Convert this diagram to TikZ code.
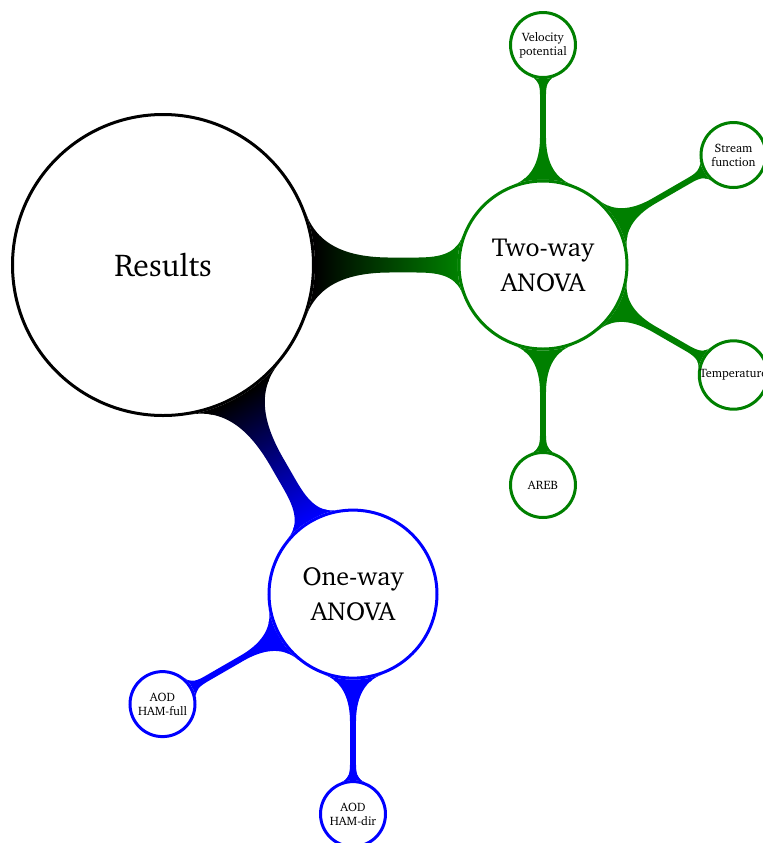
\documentclass[tikz,border=0pt]{standalone}
\usepackage[T1]{fontenc}
\usepackage{charter}
\usetikzlibrary{mindmap,backgrounds}
\colorlet{cgreen}{green!50!black}
\tikzset{
  conc/.style={circle, draw=#1, fill=white, line width=1.5pt, align=center, inner sep=0pt, text=black},
  rootc/.style={conc=black, minimum size=150.5pt, font=\fontsize{15.8}{18}\selectfont},
  midc/.style={conc=#1, minimum size=84pt, font=\fontsize{13}{17.5}\selectfont},
  leafc/.style={conc=#1, minimum size=32.5pt, font=\fontsize{6.1}{7}\selectfont},
  bigbar/.style={line width=7pt},
  smallbar/.style={line width=3.5pt}
}
\begin{document}
\begin{tikzpicture}[x=0.5pt,y=0.5pt]
\useasboundingbox (-163,-578) rectangle (600,265);
\node[rootc] (res) at (0,0) {Results};
\node[midc=cgreen] (two) at (380,0) {Two-way\\ANOVA};
\node[midc=blue] (one) at (190,-329.1) {One-way\\ANOVA};
\node[leafc=cgreen] (vel) at (380,220) {Velocity\\potential};
\node[leafc=cgreen] (str) at (570.5,110) {Stream\\function};
\node[leafc=cgreen] (tmp) at (570.5,-110) {Temperature};
\node[leafc=cgreen] (areb) at (380,-220) {AREB};
\node[leafc=blue] (hfull) at (-0.5,-439.1) {AOD\\HAM-full};
\node[leafc=blue] (hdir) at (190,-549.1) {AOD\\HAM-dir};
\begin{scope}[on background layer]
\path[bigbar] (res) to[circle connection bar switch color=from (black) to (cgreen)] (two);
\path[bigbar] (res) to[circle connection bar switch color=from (black) to (blue)] (one);
\path[smallbar] (two) to[circle connection bar switch color=from (cgreen) to (cgreen)] (vel);
\path[smallbar] (two) to[circle connection bar switch color=from (cgreen) to (cgreen)] (str);
\path[smallbar] (two) to[circle connection bar switch color=from (cgreen) to (cgreen)] (tmp);
\path[smallbar] (two) to[circle connection bar switch color=from (cgreen) to (cgreen)] (areb);
\path[smallbar] (one) to[circle connection bar switch color=from (blue) to (blue)] (hfull);
\path[smallbar] (one) to[circle connection bar switch color=from (blue) to (blue)] (hdir);
\end{scope}
\end{tikzpicture}
\end{document}
